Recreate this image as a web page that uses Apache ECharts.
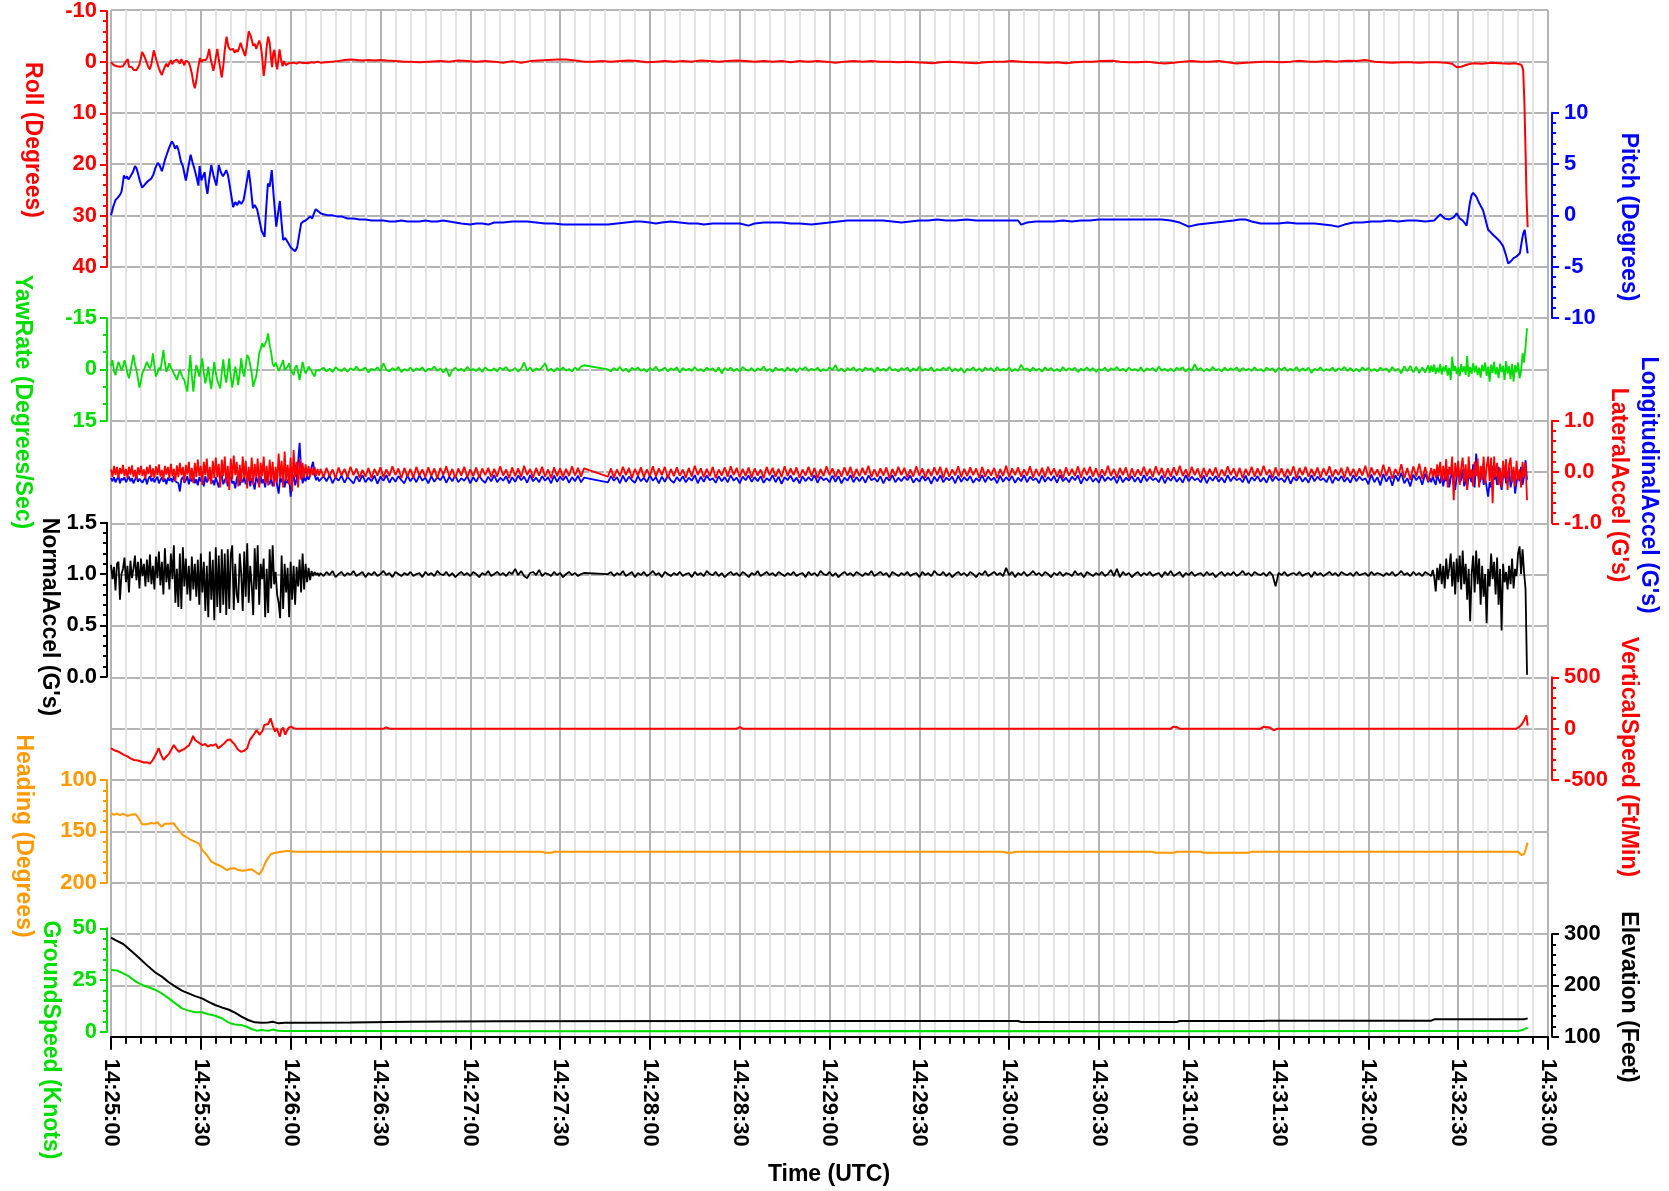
<!DOCTYPE html>
<html>
<head>
<meta charset="utf-8">
<script src="https://cdn.jsdelivr.net/npm/echarts@6/dist/echarts.min.js"></script>
<style>
html,body{margin:0;padding:0;background:#fff;}
#chart{width:1669px;height:1191px;}
</style>
</head>
<body>
<div id="chart"></div>
<script>
// ---------- tick labels ----------
const timeLabels = ['14:25:00','14:25:30','14:26:00','14:26:30','14:27:00','14:27:30','14:28:00','14:28:30','14:29:00','14:29:30','14:30:00','14:30:30','14:31:00','14:31:30','14:32:00','14:32:30','14:33:00'];

// ---------- smooth-ish channels: [seconds after 14:25:00, value] ----------
const rollData = [[0,0],[0.5,0.3],[1,0.6],[1.5,0.4],[2,0.8],[2.5,0.5],[3,0.9],[3.5,0.7],[4,0.8],[4.5,0.3],[5,0.2],[5.6,-0.6],[6,0.9],[6.5,1.2],[7,1.0],[7.5,1.5],[8,1.2],[8.5,1.6],[9,1.3],[9.5,0.5],[10,-0.8],[10.4,-2.0],[11,-1.3],[11.5,-0.6],[12,0.2],[12.5,1.0],[13,1.4],[13.5,0.3],[14.3,-2.3],[14.8,-1.2],[15.5,0.3],[16,1.2],[16.5,2.0],[17,2.5],[17.5,1.6],[18,0.9],[18.5,0.3],[19,0.9],[19.5,0.2],[20,-0.4],[20.5,0.4],[21,-0.2],[21.5,0.1],[22,-0.5],[22.5,-0.2],[23,0.3],[23.5,-0.6],[24,-0.7],[24.5,0.6],[25,-0.3],[25.5,-0.5],[26,0.1],[26.5,1.0],[27,2.2],[27.5,4.0],[28,5.1],[28.5,3.6],[29,1.5],[29.7,-0.8],[30.2,0],[30.7,-0.4],[31.2,-0.1],[31.7,-0.4],[32.2,-1.0],[32.8,-2.6],[33.3,-0.6],[34.2,1.7],[34.7,0.2],[35.5,-2.6],[36.2,0.2],[37,3.0],[37.5,0.8],[38,-2.4],[38.6,-5.0],[39.2,-3.0],[39.8,-2.4],[40.3,-2.2],[40.8,-2.6],[41.3,-1.8],[41.8,-2.4],[42.3,-2.0],[42.8,-2.8],[43.3,-3.8],[43.8,-2.8],[44.3,-2.0],[44.8,-1.2],[45.3,-2.8],[46,-6.0],[46.5,-5.4],[47,-4.4],[47.5,-3.2],[48,-3.6],[48.5,-2.6],[49,-3.4],[49.5,-4.2],[50,-3.4],[50.5,-1.0],[51,2.7],[51.5,0.5],[52,-3.0],[52.5,-5.0],[53,-3.8],[53.4,-1.0],[53.8,1.0],[54.2,-1.8],[54.6,-2.4],[55.1,0.2],[55.5,1.4],[55.9,-0.5],[56.3,-2.5],[56.8,-0.5],[57.3,0.8],[57.8,-0.2],[58.4,0.6],[59,0.5],[59.5,0.2],[60,0.3],[61,0.1],[62,0.3],[63,0.0],[64,0.2],[65,0.1],[66,0.2],[67,0.0],[68,0.1],[69,-0.1],[70,0.1],[72,0.0],[74,-0.1],[76,-0.2],[78,-0.4],[80,-0.5],[82,-0.4],[84,-0.3],[86,-0.4],[88,-0.3],[90,-0.4],[92,-0.3],[95,-0.2],[98,-0.1],[100,-0.1],[103,0.0],[106,-0.1],[110,-0.2],[113,-0.1],[116,-0.3],[119,-0.2],[122,-0.1],[125,-0.2],[128,-0.1],[131,0.1],[134,-0.2],[137,0.1],[140,-0.2],[143,-0.3],[146,-0.4],[149,-0.5],[152,-0.5],[155,-0.3],[158,-0.1],[161,-0.1],[164,-0.2],[167,-0.1],[170,-0.2],[173,-0.3],[176,-0.2],[179,0.0],[182,-0.1],[185,-0.2],[188,-0.1],[191,-0.2],[194,-0.1],[197,-0.3],[200,-0.2],[203,-0.1],[206,-0.2],[209,-0.3],[212,-0.2],[215,-0.1],[218,-0.2],[221,-0.1],[224,-0.2],[227,0.0],[230,-0.2],[233,-0.1],[236,-0.2],[239,-0.1],[242,0.1],[245,-0.1],[248,-0.2],[251,-0.1],[254,-0.2],[257,-0.1],[260,-0.1],[263,0.0],[266,-0.1],[269,0.0],[272,0.1],[274.5,0.2],[277,0.0],[280,-0.1],[283,0.0],[286,0.1],[289,0.2],[292,0.0],[295,-0.1],[298,-0.1],[301,-0.2],[304,-0.1],[307,0.0],[310,0.0],[313,0.1],[316,0.0],[319,0.2],[322,0.0],[325,-0.1],[328,-0.1],[331,-0.2],[334.5,-0.25],[337,-0.1],[340,0.0],[343,0.0],[346,-0.1],[349,0.1],[352,0.25],[355,0.1],[358,-0.1],[361,-0.2],[364,-0.1],[367,-0.1],[370,-0.2],[373,0.0],[376,0.25],[379,0.1],[382,0.0],[385,-0.1],[388,-0.1],[391,0.0],[394,-0.1],[397,-0.25],[400,-0.1],[403,-0.1],[406,-0.2],[409,-0.1],[413,-0.25],[416,-0.2],[419,-0.4],[422,-0.1],[425,0.0],[428,0.1],[431,0.0],[434,0.0],[437,0.1],[440,0.0],[443,0.0],[446,0.1],[448,0.3],[449.5,1.0],[451,0.9],[452.8,0.5],[455,0.2],[458,0.3],[461,0.1],[464,0.2],[467,0.3],[469,0.2],[471.1,0.5],[471.7,1.5],[472.1,7.6],[472.5,17.3],[472.8,25.8],[473.2,32.3]];

const pitchData = [[0,0],[0.7,0.8],[1.5,1.5],[2.2,1.7],[2.6,1.8],[3,2.0],[3.5,2.3],[3.9,3.0],[4.3,3.9],[4.8,3.6],[5.3,3.8],[5.8,3.5],[6.3,3.7],[6.8,3.6],[7.3,4.2],[8,4.8],[8.5,4.6],[9,4.1],[9.6,3.4],[10.4,2.7],[11,2.9],[11.6,3.1],[12.2,3.3],[12.8,3.2],[13.5,3.6],[14.2,4.0],[14.8,4.6],[15.6,5.1],[16.2,4.9],[17,4.3],[17.5,4.8],[18,5.4],[18.6,5.9],[19.3,6.5],[20.3,7.2],[20.8,7.0],[21.4,6.5],[22,6.8],[22.5,6.4],[23.4,5.2],[24,4.8],[25,3.4],[25.7,4.5],[26.6,5.9],[27.2,5.2],[27.8,4.6],[28.5,3.8],[29.2,2.9],[29.6,4.8],[30.2,3.4],[30.7,3.8],[31.3,4.2],[31.7,3.0],[32.2,2.1],[32.8,3.5],[33.5,4.9],[34.3,3.8],[35.2,2.9],[36,4.9],[36.7,4.2],[37.4,3.8],[38,4.1],[38.5,4.4],[39.1,3.9],[39.6,3.0],[40.8,0.8],[41.5,1.3],[42.2,1.0],[42.8,1.4],[43.5,1.1],[44.3,1.5],[45.2,3.0],[46,4.4],[46.6,3.0],[47.4,0.7],[48,1.0],[48.8,0.6],[49.6,-0.5],[50.3,-1.5],[51.3,-2.1],[51.8,0.5],[52.4,3.1],[53,2.8],[53.7,4.4],[54.3,2.0],[55.2,-1.1],[55.8,0.2],[56.4,1.4],[57,-0.8],[57.5,-2.4],[58.2,-2.2],[58.8,-2.5],[59.4,-2.8],[60,-3.1],[60.7,-3.3],[61.5,-3.5],[62.2,-3.1],[62.8,-2.0],[63.5,-0.8],[64.2,-0.6],[65,-0.5],[65.8,-0.3],[66.5,-0.1],[67.2,-0.3],[67.8,0.2],[68.4,0.6],[69.2,0.4],[70,0.2],[71,0.1],[72.5,0.0],[74,0.0],[75.5,-0.1],[77,-0.1],[79,-0.3],[81,-0.3],[83,-0.4],[85,-0.4],[87,-0.5],[89,-0.5],[91,-0.5],[93,-0.6],[95,-0.6],[97,-0.5],[99,-0.6],[101,-0.6],[103,-0.6],[105,-0.5],[107,-0.6],[109,-0.6],[111,-0.5],[113,-0.6],[115,-0.7],[117,-0.8],[120,-0.9],[122,-0.8],[124,-0.8],[126,-0.9],[128,-0.7],[131,-0.7],[134,-0.6],[136,-0.6],[139,-0.6],[142,-0.7],[145,-0.8],[148,-0.8],[151,-0.9],[154,-0.9],[157,-0.9],[160,-0.9],[163,-0.9],[166,-0.9],[169,-0.8],[172,-0.7],[175,-0.6],[177,-0.6],[180,-0.7],[182,-0.8],[184,-0.7],[187,-0.6],[190,-0.7],[193,-0.8],[196,-0.8],[198,-0.9],[201,-0.8],[204,-0.8],[207,-0.8],[210,-0.8],[213,-1.0],[215,-0.8],[218,-0.7],[221,-0.7],[224,-0.7],[227,-0.8],[230,-0.8],[234,-0.9],[237,-0.8],[240,-0.7],[243,-0.6],[246,-0.5],[249,-0.5],[252,-0.5],[255,-0.5],[258,-0.5],[261,-0.6],[264,-0.7],[267,-0.6],[270,-0.5],[273,-0.5],[276,-0.4],[279,-0.5],[282,-0.5],[286,-0.4],[289,-0.5],[292,-0.5],[295,-0.5],[298,-0.5],[301,-0.5],[303,-0.5],[304,-0.9],[306,-0.7],[309,-0.6],[312,-0.6],[315,-0.6],[318,-0.5],[321,-0.6],[324,-0.5],[327,-0.5],[330,-0.4],[333,-0.4],[336,-0.4],[339,-0.4],[342,-0.4],[345,-0.4],[348,-0.4],[351,-0.4],[354,-0.5],[357,-0.7],[360,-1.1],[363,-0.9],[366,-0.8],[369,-0.7],[372,-0.6],[375,-0.5],[377,-0.4],[379,-0.4],[381,-0.6],[384,-0.8],[387,-0.8],[390,-0.8],[393,-0.7],[396,-0.8],[399,-0.8],[402,-0.8],[405,-0.9],[408,-1.0],[410,-1.1],[412,-0.9],[415,-0.7],[418,-0.7],[421,-0.6],[424,-0.6],[427,-0.5],[430,-0.6],[433,-0.5],[436,-0.5],[439,-0.6],[442,-0.5],[444,0.1],[445.5,-0.3],[447,-0.4],[448.5,-0.2],[449.5,0.2],[450.5,-0.3],[451.5,-0.5],[452.8,-1.0],[453.4,0.2],[453.9,1.2],[454.5,2.0],[455,2.2],[455.6,2.1],[456.1,1.8],[457,1.2],[458.3,0.5],[459.2,-0.5],[460,-1.4],[461,-1.7],[462,-2.0],[462.8,-2.2],[463.8,-2.5],[465,-3.0],[466,-3.9],[466.7,-4.7],[467.5,-4.5],[468.4,-4.2],[469.5,-4.0],[470.6,-3.7],[471.2,-2.6],[471.7,-1.8],[472.2,-1.4],[472.6,-1.5],[473.2,-3.7]];

const vertSpeedData = [[0,-190],[1,-210],[2.6,-225],[3.5,-240],[4.3,-255],[5.5,-270],[6.5,-290],[7.7,-305],[9,-310],[10,-320],[11,-330],[12,-328],[13,-340],[14,-305],[15,-250],[15.9,-190],[16.8,-260],[17.6,-305],[18.5,-270],[19.3,-250],[20.2,-200],[21,-160],[21.9,-200],[22.7,-225],[23.6,-210],[24.4,-200],[25.2,-180],[26,-165],[26.8,-120],[27.4,-70],[28,-110],[28.6,-125],[29.5,-140],[30.6,-160],[31.5,-150],[32.3,-175],[33.2,-160],[34,-165],[35,-150],[35.8,-190],[36.8,-170],[37.8,-145],[38.9,-110],[39.8,-105],[40.5,-130],[41.2,-150],[42.3,-200],[43.4,-225],[44.5,-215],[45.5,-190],[46.4,-110],[47,-95],[48,-45],[48.6,-15],[49.1,-5],[49.7,-60],[50.6,-20],[51.2,35],[51.8,20],[52.5,45],[53.3,100],[54,30],[54.8,-30],[55.3,5],[55.9,-40],[56.4,-78],[56.9,-10],[57.5,10],[58.2,-60],[58.8,-20],[59.4,10],[60.1,20],[61,5],[62,0],[91,0],[92,12],[93,0],[148,0],[148.5,8],[149,0],[209,0],[210,15],[211,0],[254,0],[254.6,12],[255,0],[303,0],[303.6,-8],[304,0],[354,0],[354.8,18],[356,15],[357,0],[384,0],[385,18],[387,12],[388.5,-18],[389.5,0],[469.5,0],[470.5,20],[471.3,45],[472,80],[472.8,130],[473.2,30]];

const headingData = [[0,132.5],[1,134],[2,132.8],[3,134.2],[4,132.8],[5.5,135],[7,133.5],[8.3,133.4],[9.3,137.5],[10.4,143],[12,143],[13.5,141.8],[14.6,142.5],[15.5,141],[16.9,145.5],[18,142.5],[19.5,142.5],[21,142],[21.7,145.5],[23,150],[24,153.6],[25.5,156],[26.5,158],[28,160],[29.3,161.7],[30.5,168],[32,173],[33.5,179.5],[35,181.8],[36,183],[37,184.4],[38.7,187.7],[39.8,186.2],[41.4,186],[42.5,187.7],[44,188.3],[45.5,187.7],[47,187],[48.2,189.3],[49.5,192],[50.5,188],[51.7,179.5],[53.4,172],[55,170.8],[56.5,170],[58,169.3],[59,169],[61,169.8],[100,169.8],[144,169.8],[145,170.8],[147,170.8],[148,169.8],[298,169.8],[299,170.8],[301,170.8],[302,169.8],[348,169.8],[349,170.8],[355,170.8],[356,169.8],[364,169.8],[365,170.8],[380,170.8],[381,169.8],[470,169.8],[471.1,173],[472,172],[472.5,168],[473.2,161]];

const groundSpeedData = [[0,29.8],[2,29.6],[4.1,28.2],[6.2,26.6],[8.3,24.2],[10.4,22.6],[12.6,21.5],[14.8,20.2],[17,18.5],[19.3,16.1],[21.5,13.7],[23.7,11.3],[25.9,10.2],[28.1,9.4],[30.4,9.4],[32.6,8.4],[34.8,7.7],[37,6.5],[39.2,4.5],[40.5,3.8],[41.5,3.5],[43.7,3.2],[45.3,2.4],[47,1.3],[48.6,0.5],[50.3,0.8],[52.5,0.4],[54.2,1.1],[55.8,0.5],[58,0.3],[70,0.3],[150,0.2],[250,0.3],[350,0.2],[440,0.3],[470,0.3],[471.5,0.8],[472.5,1.5],[473.2,2.0]];

const elevationData = [[0,292.9],[1.5,288],[4.1,280.5],[6.2,270],[8.3,259],[10.4,248],[12.6,236],[14.8,225],[17,217],[19.3,206],[21.5,197.4],[23.7,189.6],[25.9,184.4],[28.1,179],[30.4,174.7],[32.6,168],[34.8,161.7],[37,157],[39.2,153],[41.4,146.8],[43.6,139],[45.8,132.5],[48,128],[50.2,127.3],[52.5,127.5],[54,129],[56,126],[58,127],[62,127.3],[80,127.5],[100,129.2],[130,130.2],[210,130.6],[303,130.6],[304,128.6],[356,128.6],[357,130.6],[385,130.6],[386,131.2],[441,131.2],[442,133.8],[472,134],[473.2,135.7]];

// ---------- noisy channels: early (0-69.5 s, every 0.5 s), mid1 (70-158 s, every 1 s),
// mid2 (166-440 s, every 1 s), late (440.5-473 s, every 0.5 s) ----------
const normEarly = [1.09,0.95,1.07,0.84,1.10,1.12,0.75,1.00,1.05,1.16,
0.92,1.08,0.82,1.13,0.96,1.05,1.18,0.94,1.12,0.86,
1.15,0.98,1.10,0.88,1.14,0.92,1.19,0.90,1.08,0.85,
1.17,0.96,1.22,0.89,1.12,0.80,1.25,0.92,1.10,0.85,
1.20,0.95,1.28,0.72,1.05,0.68,1.20,0.66,1.26,0.88,
1.15,0.80,1.08,0.74,1.17,0.85,1.10,0.78,1.14,0.70,
1.20,0.82,1.12,0.64,1.08,0.58,1.22,0.75,1.14,0.55,
1.26,0.68,1.18,0.62,1.24,0.70,1.20,0.60,1.24,0.66,
1.19,1.28,0.65,1.10,0.80,0.72,1.20,1.00,0.64,1.22,
0.78,1.30,0.72,1.08,0.90,0.60,1.25,0.85,1.28,0.70,
1.10,0.95,1.15,0.58,1.05,0.62,1.24,0.86,1.28,0.90,
1.02,0.80,0.72,0.57,1.18,0.66,1.10,0.82,1.06,0.58,
1.12,0.75,1.08,0.70,1.07,0.88,1.14,0.82,1.20,0.85,
1.10,0.92,1.06,0.94,1.03,0.98,1.02,0.99,1.01,0.98];
const normMid1 = [1.01,0.98,1.02,0.99,1.03,0.97,1.00,1.02,0.98,1.01,
0.99,1.03,0.98,1.00,1.02,0.97,1.01,0.99,1.02,0.98,
1.00,1.03,0.99,1.01,0.97,1.02,1.00,0.98,1.01,0.99,
1.02,0.98,1.00,1.01,0.97,1.02,0.99,1.01,0.98,1.03,
1.00,0.99,1.02,0.98,1.01,0.97,1.00,1.02,0.99,1.01,
0.98,1.02,1.00,0.97,1.01,0.99,1.03,0.98,1.00,1.02,
0.99,1.01,0.98,1.02,1.00,1.05,0.99,1.03,0.98,0.96,
1.01,1.02,0.99,1.04,0.98,1.01,1.00,0.98,1.02,0.99,
1.01,0.97,1.00,1.02,0.99,1.01,0.98,1.00,1.01];
const normMid2 = [1.00,1.02,0.98,1.01,0.99,1.03,0.98,1.00,1.02,0.97,
1.01,0.99,1.02,0.98,1.00,1.03,0.99,1.01,0.97,1.02,
1.00,0.98,1.01,0.99,1.02,0.98,1.00,1.01,0.97,1.02,
0.99,1.01,0.98,1.03,1.00,0.99,1.02,0.98,1.01,0.97,
1.00,1.02,0.99,1.01,0.98,1.02,1.00,0.97,1.01,0.99,
1.03,0.98,1.00,1.02,0.99,1.01,0.98,1.02,1.00,0.98,
1.01,0.99,1.02,0.98,1.00,1.01,0.97,1.02,0.99,1.01,
0.98,1.03,1.00,0.99,1.02,0.98,1.01,0.97,1.00,1.02,
0.99,1.01,0.98,1.02,1.00,0.98,1.01,0.99,1.03,0.98,
1.00,1.02,0.99,1.01,0.97,1.02,1.00,0.98,1.01,0.99,
1.02,0.98,1.00,1.01,0.97,1.02,0.99,1.01,0.98,1.03,
1.00,0.99,1.02,0.98,1.01,0.97,1.00,1.02,0.99,1.01,
0.98,1.02,1.00,0.97,1.01,0.99,1.03,0.98,1.00,1.02,
0.99,1.01,0.98,1.06,0.99,1.02,0.97,1.01,0.99,1.02,
0.98,1.00,1.03,0.99,1.01,0.98,1.02,1.00,0.97,1.01,
0.99,1.02,0.98,1.01,1.00,0.98,1.03,0.99,1.01,0.97,
1.02,1.00,0.98,1.01,0.99,1.02,0.98,1.00,1.04,0.98,
1.05,0.97,1.02,0.99,1.01,0.97,1.00,1.02,0.98,1.01,
0.99,1.02,0.98,1.00,1.01,0.97,1.02,0.99,1.03,0.98,
1.00,1.02,0.97,1.01,0.99,1.02,0.98,1.00,1.01,0.98,
1.02,0.99,1.01,0.97,1.00,1.02,0.98,1.01,0.99,1.02,
0.98,1.00,1.03,0.99,1.01,0.98,1.02,1.00,0.99,1.01,
0.98,1.02,0.99,0.88,1.01,0.99,1.02,0.98,1.00,1.01,
0.99,1.02,0.98,1.00,1.01,0.97,1.02,0.99,1.01,0.98,
1.00,1.02,0.99,1.01,0.98,1.02,1.00,0.99,1.01,0.98,
1.02,0.99,1.00,1.01,0.98,1.02,0.99,1.01,1.00,0.98,
1.01,0.99,1.02,0.98,1.00,1.03,0.99,1.01,0.98,1.02,
0.99,1.01,0.98,1.02,1.00];
const normLate = [1.01,0.98,1.04,0.97,0.83,1.06,0.94,1.10,0.90,1.08,
0.86,1.15,0.95,1.05,1.20,0.88,1.12,0.80,1.15,0.92,
1.18,0.85,1.23,0.90,1.10,0.75,1.05,0.54,1.00,1.18,
0.82,1.23,0.90,1.15,0.70,1.08,0.78,1.00,0.52,1.05,
0.88,1.20,0.95,1.12,0.80,1.16,0.70,1.05,0.45,1.10,
0.92,1.02,0.85,1.08,0.90,1.15,0.86,1.05,0.98,1.20,
1.27,1.00,1.24,1.02,0.85,0.02];

const yawEarly = [-1.0,-2.7,0.5,1.7,-0.5,-2.2,-1.0,0.3,-0.8,-2.7,
-1.0,1.2,2.6,0.5,-2.0,-4.2,-1.5,0.2,2.8,5.3,
3.5,1.0,0.2,-1.0,-2.2,-1.0,-0.3,-1.5,-4.7,-1.0,
2.1,1.0,-0.5,0.2,-2.5,-5.6,-2.0,0.7,-0.5,-1.8,
-0.5,-0.8,1.2,2.0,3.1,1.5,0.3,0.7,2.5,3.1,
5.0,6.5,1.0,-4.2,2.0,6.5,2.0,-1.3,0.5,2.1,
-0.5,-3.2,1.0,4.1,2.0,-0.8,3.0,5.8,1.5,-2.2,
1.0,3.1,4.5,5.6,1.0,-2.9,1.5,3.9,0.5,-3.2,
2.0,5.3,2.5,-0.8,1.5,4.6,1.0,-3.2,0.5,2.1,
-1.0,-4.2,-3.5,-3.2,1.0,5.1,3.5,2.1,-1.0,-4.7,
-6.0,-7.6,-6.5,-6.2,-8.5,-10.5,-7.0,-5.0,-1.5,-0.8,
-2.0,-2.2,0.5,0.2,-1.5,-2.7,0.2,0.7,-0.8,-1.8,
0.2,0.8,1.7,-0.5,-1.2,0.8,3.1,0.5,-2.2,-0.3,
1.2,0.3,-0.8,-1.2,0.5,1.5,2.1,0.2,-0.3,0.4];
const yawMid1 = [0.3,-0.5,0.6,-0.2,0.8,-0.6,0.1,0.5,-0.4,0.7,
-0.3,0.2,-0.8,0.4,0.0,-0.5,0.9,-0.2,0.3,-0.6,
0.5,-1.8,0.2,0.6,-0.4,0.3,-0.7,0.8,-0.1,0.4,
-0.5,0.6,-0.3,0.2,-0.6,0.7,-0.2,0.1,-0.8,0.5,
-0.3,0.9,-0.4,2.1,0.3,-0.5,0.4,-0.2,0.6,-0.7,
0.3,-0.1,0.5,-0.4,0.8,-0.6,0.2,0.4,-0.3,0.6,
-0.5,0.1,-0.7,0.5,0.3,-0.4,0.7,-0.2,-2.0,0.4,
-0.5,0.6,-0.3,0.2,-0.6,-1.8,0.5,-0.2,0.7,-0.4,
0.3,-0.6,0.4,-0.1,0.6,-0.5,0.2,-0.8,-1.2];
const yawMid2 = [0.0,0.6,-0.4,0.3,-0.7,0.5,-0.2,0.8,-0.5,0.2,
-0.6,0.4,-0.1,0.7,-0.4,0.3,-0.8,0.5,0.1,-0.5,
0.6,-0.3,0.2,-0.6,0.9,-0.4,0.3,-0.2,0.5,-0.7,
0.4,-0.1,0.6,-0.5,0.2,-0.3,0.7,-0.6,1.2,-0.4,
0.3,-0.5,0.5,-0.2,0.6,-0.7,0.1,0.4,-0.4,0.6,
-0.3,0.2,-0.8,0.5,-0.1,0.7,-0.5,0.3,-0.2,0.6,
-0.6,0.4,-0.3,0.8,-0.4,0.1,-0.7,0.5,-0.2,0.3,
-0.5,0.6,-0.1,0.4,-0.6,0.2,-1.3,0.5,-0.3,0.7,
-0.4,0.3,-0.6,0.5,-0.2,0.6,-0.5,0.1,-0.3,0.8,
-0.6,0.4,-0.2,0.5,-0.7,0.3,-0.1,0.6,-0.4,0.2,
-0.5,0.7,-0.3,0.4,-0.8,0.5,-0.2,0.3,-0.6,0.6,
-0.1,0.4,-0.5,0.2,-0.7,0.6,-0.3,0.5,-0.4,1.0,
-0.2,0.3,-0.6,0.5,-0.3,0.7,-0.5,0.1,-0.4,0.6,
-0.7,0.4,-0.2,0.3,-0.5,0.6,-0.1,0.5,-1.4,0.2,
-0.3,0.6,-0.5,0.4,-0.2,0.7,-0.6,0.3,-0.4,0.5,
-0.1,0.6,-0.7,0.4,-0.3,0.2,-0.5,0.8,-0.2,0.3,
-0.6,0.5,-0.4,0.7,-0.1,0.3,-0.5,0.6,-0.3,0.2,
-0.7,0.4,-0.2,0.6,-0.5,0.3,-0.1,0.5,-0.6,0.7,
-0.3,0.2,-0.4,0.6,-0.8,0.4,-0.2,0.5,-0.3,0.6,
-0.5,0.1,-0.6,0.7,-0.3,0.4,-1.5,0.2,-0.4,0.6,
-0.2,0.5,-0.7,0.3,-0.1,0.6,-0.5,0.4,-0.3,0.2,
-0.6,0.7,-0.4,0.3,-0.2,0.5,-0.6,0.4,-0.1,0.6,
-0.5,0.3,-0.3,0.8,-0.4,0.2,-0.6,0.5,-0.2,0.4,
-0.7,0.6,-0.3,0.4,-0.5,1.1,-0.2,0.3,-0.6,0.5,
-0.1,0.4,-0.5,0.6,-0.3,0.2,-0.7,0.5,-0.4,0.6,
-0.2,0.7,-0.6,0.3,-0.4,0.5,-0.1,0.6,-0.5,0.3,
-0.3,0.8,-0.7,0.5,-0.2,1.2,-0.9,0.6,-1.0,0.9,
-0.8,1.1,-0.6,0.9,-1.2];
const yawLate = [1.0,-1.1,0.7,-1.4,1.3,-0.5,0.9,-1.6,1.5,-0.8,
0.6,-1.2,1.8,-0.4,3.1,-3.7,0.5,-1.0,1.4,-0.6,
2.0,-1.5,0.8,-0.9,1.6,-3.9,2.2,-0.7,1.3,-1.8,
0.9,-1.1,1.7,-0.5,2.4,-1.3,0.6,-2.0,1.9,-0.8,
3.6,-1.4,1.0,-2.2,1.5,-0.6,2.6,-1.7,0.8,-1.0,
3.1,-2.4,1.2,-0.9,2.8,-1.6,3.6,-1.2,0.9,-2.0,
2.6,0.5,-4.7,-2.0,-6.6,-12.0];

const latEarly = [0.05,-0.10,0.12,-0.06,0.10,-0.12,0.08,-0.04,0.14,-0.08,
0.06,-0.12,0.10,-0.05,0.13,-0.10,0.04,-0.14,0.09,-0.06,
0.12,-0.08,0.05,-0.13,0.10,-0.04,0.14,-0.10,0.07,-0.12,
0.11,-0.06,0.15,-0.09,0.04,-0.16,0.12,-0.05,0.10,-0.12,
0.16,-0.08,0.06,-0.18,0.13,-0.10,0.18,-0.06,0.10,-0.20,
0.14,-0.05,0.20,-0.15,0.08,-0.22,0.18,-0.10,0.24,-0.08,
0.12,-0.25,0.20,-0.06,0.26,-0.18,0.10,-0.24,0.22,-0.12,
0.28,-0.10,0.16,-0.30,0.24,-0.08,0.30,-0.22,0.12,-0.35,
0.26,-0.14,0.32,-0.06,0.20,-0.28,0.14,-0.20,0.30,-0.12,
0.22,-0.32,0.10,-0.18,0.28,-0.25,0.16,-0.10,0.26,-0.30,
0.18,-0.08,0.30,-0.22,0.12,-0.26,0.24,-0.15,0.20,-0.28,
0.10,-0.20,0.36,-0.12,0.22,-0.30,0.40,-0.18,0.14,-0.25,
0.28,-0.38,0.43,-0.10,0.20,-0.30,0.25,-0.15,0.18,-0.12,
0.15,-0.08,0.12,-0.10,0.08,-0.06,0.10,-0.08,0.06,-0.07];
const latMid1 = [0.06,-0.10,0.08,-0.08,0.05,-0.12,0.09,-0.07,0.06,-0.10,
0.10,-0.06,0.07,-0.11,0.04,-0.09,0.08,-0.12,0.06,-0.07,
0.09,-0.10,0.05,-0.08,0.11,-0.06,0.07,-0.12,0.08,-0.09,
0.06,-0.11,0.10,-0.07,0.05,-0.10,0.09,-0.08,0.07,-0.12,
0.08,-0.06,0.11,-0.09,0.06,-0.12,0.07,-0.07,0.10,-0.10,
0.05,-0.08,0.09,-0.11,0.07,-0.06,0.08,-0.10,0.06,-0.09,
0.11,-0.07,0.05,-0.12,0.09,-0.08,0.07,-0.10,0.12,-0.06,
0.06,-0.11,0.08,-0.07,0.10,-0.09,0.05,-0.12,0.09,-0.08,
0.07,-0.10,0.06,-0.08,0.11,-0.07,0.08,-0.09,0.07];
const latMid2 = [-0.09,0.07,-0.11,0.05,-0.08,0.10,-0.06,0.08,-0.12,0.06,
-0.07,0.09,-0.10,0.05,-0.08,0.11,-0.09,0.07,-0.06,0.10,
-0.12,0.06,-0.08,0.09,-0.07,0.05,-0.11,0.08,-0.09,0.12,
-0.06,0.07,-0.10,0.06,-0.08,0.10,-0.12,0.05,-0.07,0.09,
-0.09,0.11,-0.06,0.08,-0.10,0.06,-0.08,0.09,-0.11,0.07,
-0.07,0.05,-0.12,0.10,-0.06,0.08,-0.09,0.06,-0.10,0.11,
-0.08,0.07,-0.06,0.09,-0.11,0.05,-0.07,0.10,-0.09,0.08,
-0.12,0.06,-0.08,0.11,-0.06,0.07,-0.10,0.05,-0.09,0.09,
-0.07,0.10,-0.11,0.06,-0.08,0.08,-0.06,0.12,-0.10,0.05,
-0.09,0.07,-0.07,0.09,-0.12,0.06,-0.08,0.10,-0.06,0.08,
-0.10,0.05,-0.09,0.11,-0.07,0.07,-0.11,0.06,-0.08,0.09,
-0.06,0.10,-0.12,0.08,-0.09,0.05,-0.07,0.11,-0.10,0.06,
-0.08,0.09,-0.06,0.07,-0.11,0.10,-0.09,0.05,-0.07,0.08,
-0.12,0.06,-0.08,0.12,-0.10,0.07,-0.06,0.09,-0.09,0.05,
-0.07,0.11,-0.11,0.06,-0.08,0.08,-0.10,0.10,-0.06,0.07,
-0.09,0.05,-0.12,0.09,-0.07,0.06,-0.08,0.11,-0.11,0.08,
-0.06,0.10,-0.09,0.07,-0.10,0.05,-0.07,0.12,-0.08,0.06,
-0.11,0.08,-0.06,0.09,-0.12,0.07,-0.09,0.05,-0.07,0.10,
-0.08,0.06,-0.10,0.11,-0.06,0.08,-0.11,0.07,-0.09,0.09,
-0.07,0.12,-0.08,0.05,-0.10,0.10,-0.06,0.07,-0.12,0.08,
-0.09,0.06,-0.07,0.09,-0.11,0.05,-0.08,0.11,-0.06,0.07,
-0.10,0.08,-0.12,0.06,-0.07,0.10,-0.09,0.07,-0.08,0.12,
-0.06,0.05,-0.11,0.09,-0.08,0.07,-0.10,0.06,-0.07,0.11,
-0.12,0.08,-0.06,0.10,-0.09,0.06,-0.08,0.09,-0.11,0.07,
-0.07,0.11,-0.10,0.05,-0.06,0.08,-0.12,0.10,-0.08,0.06,
-0.09,0.07,-0.07,0.12,-0.11,0.09,-0.06,0.05,-0.10,0.14,
-0.08,0.10,-0.13,0.06,-0.07,0.15,-0.12,0.08,-0.15,0.11,
-0.09,0.16,-0.14,0.10,-0.18];
const latLate = [-0.05,0.08,-0.10,0.06,-0.12,0.15,-0.08,0.20,-0.20,0.12,
-0.15,0.25,-0.30,0.10,-0.05,0.30,-0.55,0.18,-0.10,0.22,
-0.25,0.08,0.28,-0.20,0.15,-0.35,0.30,-0.12,0.05,-0.28,
0.20,-0.08,0.26,-0.30,0.12,-0.15,0.30,-0.22,0.10,0.30,
-0.18,0.28,-0.61,0.30,-0.10,0.18,-0.25,0.08,-0.30,0.22,
-0.12,0.25,-0.35,0.15,0.28,-0.20,0.10,-0.28,0.22,-0.15,
0.05,-0.30,0.20,-0.10,0.18,-0.55];

const lonEarly = [-0.12,-0.18,-0.10,-0.20,-0.14,-0.08,-0.22,-0.12,-0.16,-0.10,
-0.20,-0.14,-0.09,-0.18,-0.12,-0.22,-0.15,-0.08,-0.19,-0.13,
-0.10,-0.21,-0.15,-0.11,-0.24,-0.13,-0.08,-0.18,-0.12,-0.20,
-0.14,-0.09,-0.22,-0.16,-0.10,-0.19,-0.13,-0.24,-0.11,-0.17,
-0.12,-0.20,-0.08,-0.18,-0.15,-0.22,-0.38,-0.14,-0.10,-0.21,
-0.16,-0.08,-0.24,-0.12,-0.18,-0.06,-0.22,-0.14,-0.26,-0.10,
-0.18,-0.12,-0.28,-0.08,-0.20,-0.14,-0.04,-0.22,-0.16,-0.26,
-0.10,-0.20,-0.30,-0.12,-0.06,-0.24,-0.16,-0.10,-0.28,-0.14,
-0.08,-0.22,-0.18,-0.32,-0.12,-0.06,-0.26,-0.14,-0.20,-0.10,
-0.24,-0.16,-0.06,-0.28,-0.12,-0.20,-0.34,-0.10,-0.18,-0.26,
-0.08,-0.22,-0.14,-0.30,-0.06,-0.18,-0.24,-0.12,-0.28,-0.16,
-0.04,-0.26,-0.42,-0.12,-0.20,-0.08,-0.30,-0.14,-0.22,-0.10,
-0.48,-0.20,-0.05,-0.26,-0.14,0.20,0.57,0.05,-0.22,-0.10,
-0.18,-0.08,-0.15,-0.06,0.10,0.20,-0.05,-0.16,-0.10,-0.18];
const lonMid1 = [-0.20,-0.08,-0.18,-0.06,-0.22,-0.10,-0.17,-0.07,-0.21,-0.09,
-0.16,-0.22,-0.08,-0.19,-0.06,-0.20,-0.11,-0.18,-0.07,-0.23,
-0.09,-0.17,-0.06,-0.21,-0.10,-0.19,-0.08,-0.16,-0.22,-0.07,
-0.18,-0.09,-0.20,-0.06,-0.17,-0.11,-0.22,-0.08,-0.19,-0.10,
-0.16,-0.07,-0.21,-0.09,-0.18,-0.06,-0.20,-0.12,-0.17,-0.08,
-0.22,-0.10,-0.19,-0.07,-0.16,-0.21,-0.09,-0.18,-0.06,-0.20,
-0.11,-0.17,-0.08,-0.22,-0.10,-0.19,-0.07,-0.16,-0.09,-0.21,
-0.06,-0.18,-0.11,-0.20,-0.08,-0.17,-0.10,-0.22,-0.07,-0.19,
-0.09,-0.16,-0.08,-0.21,-0.10,-0.18,-0.07,-0.20,-0.11];
const lonMid2 = [-0.20,-0.08,-0.17,-0.10,-0.22,-0.07,-0.19,-0.09,-0.16,-0.21,
-0.08,-0.18,-0.11,-0.20,-0.06,-0.17,-0.10,-0.22,-0.09,-0.19,
-0.07,-0.16,-0.21,-0.10,-0.18,-0.08,-0.20,-0.11,-0.17,-0.06,
-0.22,-0.09,-0.19,-0.07,-0.16,-0.12,-0.21,-0.08,-0.18,-0.10,
-0.20,-0.06,-0.17,-0.11,-0.22,-0.09,-0.16,-0.07,-0.19,-0.10,
-0.18,-0.08,-0.21,-0.12,-0.17,-0.06,-0.20,-0.09,-0.23,-0.10,
-0.16,-0.07,-0.19,-0.11,-0.22,-0.08,-0.18,-0.10,-0.17,-0.06,
-0.21,-0.09,-0.16,-0.12,-0.20,-0.07,-0.19,-0.08,-0.22,-0.11,
-0.17,-0.06,-0.20,-0.10,-0.18,-0.09,-0.21,-0.07,-0.16,-0.12,
-0.19,-0.08,-0.22,-0.10,-0.17,-0.06,-0.20,-0.11,-0.18,-0.09,
-0.16,-0.07,-0.21,-0.12,-0.19,-0.08,-0.17,-0.10,-0.23,-0.09,
-0.18,-0.06,-0.20,-0.11,-0.16,-0.09,-0.22,-0.07,-0.19,-0.10,
-0.17,-0.08,-0.21,-0.12,-0.18,-0.06,-0.20,-0.09,-0.16,-0.11,
-0.22,-0.07,-0.19,-0.10,-0.17,-0.08,-0.21,-0.11,-0.18,-0.06,
-0.20,-0.09,-0.16,-0.12,-0.22,-0.07,-0.19,-0.10,-0.17,-0.08,
-0.21,-0.06,-0.18,-0.11,-0.20,-0.09,-0.16,-0.07,-0.23,-0.10,
-0.17,-0.08,-0.19,-0.12,-0.21,-0.06,-0.18,-0.10,-0.16,-0.09,
-0.22,-0.07,-0.20,-0.11,-0.17,-0.08,-0.19,-0.10,-0.21,-0.06,
-0.18,-0.09,-0.16,-0.12,-0.20,-0.07,-0.22,-0.10,-0.17,-0.08,
-0.19,-0.11,-0.21,-0.06,-0.18,-0.09,-0.16,-0.12,-0.20,-0.07,
-0.22,-0.10,-0.17,-0.08,-0.19,-0.11,-0.21,-0.06,-0.18,-0.09,
-0.16,-0.12,-0.20,-0.07,-0.22,-0.10,-0.17,-0.08,-0.19,-0.11,
-0.21,-0.06,-0.18,-0.09,-0.16,-0.12,-0.20,-0.07,-0.23,-0.10,
-0.17,-0.08,-0.19,-0.11,-0.21,-0.06,-0.18,-0.09,-0.16,-0.12,
-0.20,-0.07,-0.22,-0.10,-0.17,-0.08,-0.19,-0.11,-0.21,-0.06,
-0.18,-0.09,-0.16,-0.12,-0.24,-0.05,-0.20,-0.10,-0.26,-0.04,
-0.19,-0.08,-0.27,-0.06,-0.18,-0.02,-0.22,-0.12,-0.28,-0.05,
-0.16,-0.08,-0.25,-0.03,-0.20];
const lonLate = [-0.12,-0.20,-0.08,-0.18,-0.25,-0.05,-0.15,-0.22,-0.02,-0.28,
-0.10,-0.18,0.05,-0.30,-0.12,0.02,-0.25,-0.35,-0.08,0.10,
-0.20,-0.15,0.05,-0.28,-0.10,-0.32,-0.05,-0.12,-0.20,0.15,
-0.30,0.36,0.05,-0.22,-0.15,0.10,-0.25,-0.12,-0.10,-0.48,
-0.20,-0.30,0.12,-0.15,-0.05,-0.25,0.10,-0.18,-0.35,-0.08,
0.05,-0.22,-0.12,0.08,-0.30,-0.15,0.02,-0.42,-0.20,-0.05,
-0.18,0.10,-0.25,-0.10,0.23,-0.15];

// ---------- build [t, v] tables from the segments ----------
function seg(t0, step, vals) { return vals.map(function (v, i) { return [Math.round((t0 + i * step) * 100) / 100, v]; }); }
function joinSegs(early, mid1, mid2, late) {
  return seg(0, 0.5, early)
    .concat(seg(70, 1, mid1))
    .concat(seg(440 - (mid2.length - 1), 1, mid2))
    .concat(seg(473 - (late.length - 1) * 0.5, 0.5, late));
}
const normData = joinSegs(normEarly, normMid1, normMid2, normLate);
const yawData = joinSegs(yawEarly, yawMid1, yawMid2, yawLate);
const latData = joinSegs(latEarly, latMid1, latMid2, latLate);
const lonData = joinSegs(lonEarly, lonMid1, lonMid2, lonLate);

// ---------- styling ----------
const RED = '#ff0000', BLUE = '#0000ff', GREEN = '#00dd00', ORANGE = '#ff9900', BLACK = '#000000';
const FONT = '"Liberation Sans", Arial, sans-serif';
const PL = 111, PW = 1437;

// panel definitions: [top, height, min, max, interval, minorSplit, inverse, side, color, decimals]
const panels = [
  {top: 10,    h: 256.7, min: -10, max: 40,  iv: 10,  ms: 5, inv: true,  side: 'left',  color: RED,    dec: 0},
  {top: 318,   h: 102.7, min: -15, max: 15,  iv: 15,  ms: 3, inv: true,  side: 'left',  color: GREEN,  dec: 0},
  {top: 522.7, h: 154,   min: 0,   max: 1.5, iv: 0.5, ms: 5, inv: false, side: 'left',  color: BLACK,  dec: 1},
  {top: 780,   h: 102.7, min: 100, max: 200, iv: 50,  ms: 5, inv: true,  side: 'left',  color: ORANGE, dec: 0},
  {top: 928.3, h: 103.4, min: 0,   max: 50,  iv: 25,  ms: 5, inv: false, side: 'left',  color: GREEN,  dec: 0},
  {top: 112.7, h: 205.3, min: -10, max: 10,  iv: 5,   ms: 5, inv: false, side: 'right', color: BLUE,   dec: 0},
  {top: 420.7, h: 102.6, min: -1,  max: 1,   iv: 1,   ms: 5, inv: false, side: 'right', color: RED,    dec: 1},
  {top: 677.3, h: 102.7, min: -500,max: 500, iv: 500, ms: 5, inv: false, side: 'right', color: RED,    dec: 0},
  {top: 934,   h: 102.7, min: 100, max: 300, iv: 100, ms: 5, inv: false, side: 'right', color: BLACK,  dec: 0}
];

const grids = [{left: PL, top: 10, width: PW, height: 1026.7}];
const xAxes = [{
  gridIndex: 0, type: 'value', min: 0, max: 480, interval: 30,
  axisLine: {onZero: false, lineStyle: {color: '#000', width: 2}},
  axisTick: {show: true, length: 13, lineStyle: {color: '#000', width: 2}},
  minorTick: {show: true, splitNumber: 6, length: 7, lineStyle: {color: '#000', width: 2}},
  splitLine: {show: true, lineStyle: {color: '#b4b4b4', width: 2}},
  minorSplitLine: {show: true, lineStyle: {color: '#e4e4e4', width: 2}},
  axisLabel: {rotate: -90, margin: 22, color: '#000', fontSize: 22, fontWeight: 'bold', fontFamily: FONT,
    formatter: function (v) { return timeLabels[Math.round(v / 30)]; }}
}];
const yAxes = [{
  gridIndex: 0, type: 'value', min: 0, max: 20, interval: 1,
  axisLine: {show: false}, axisTick: {show: false}, axisLabel: {show: false},
  splitLine: {show: true, lineStyle: {color: '#b4b4b4', width: 2}}
}];
panels.forEach(function (p, i) {
  grids.push({left: PL, top: p.top, width: PW, height: p.h});
  xAxes.push({gridIndex: i + 1, type: 'value', min: 0, max: 480, show: false});
  yAxes.push({
    gridIndex: i + 1, type: 'value', min: p.min, max: p.max, interval: p.iv, inverse: p.inv,
    position: p.side, offset: 4,
    axisLine: {show: true, onZero: false, lineStyle: {color: p.color, width: 2}},
    axisTick: {show: true, length: 7, lineStyle: {color: p.color, width: 2}},
    minorTick: {show: true, splitNumber: p.ms, length: 4, lineStyle: {color: p.color, width: 2}},
    splitLine: {show: false},
    axisLabel: {color: p.color, fontSize: 22, fontWeight: 'bold', fontFamily: FONT,
      margin: p.side === 'left' ? 10 : 12, padding: [12, 0, 0, 0],
      formatter: function (v) { return p.dec ? v.toFixed(p.dec) : String(v); }}
  });
});

function line(name, idx, data, color, w) {
  return {type: 'line', name: name, xAxisIndex: idx, yAxisIndex: idx, data: data,
    showSymbol: false, symbol: 'none', clip: false, animation: false,
    lineStyle: {color: color, width: w || 2}, itemStyle: {color: color}};
}

const series = [
  line('Roll', 1, rollData, RED),
  line('YawRate', 2, yawData, GREEN, 1.8),
  line('NormalAccel', 3, normData, BLACK, 1.8),
  line('Heading', 4, headingData, ORANGE),
  line('GroundSpeed', 5, groundSpeedData, GREEN),
  line('Pitch', 6, pitchData, BLUE),
  line('LongitudinalAccel', 7, lonData, BLUE, 1.8),
  line('LateralAccel', 7, latData, RED, 1.8),
  line('VerticalSpeed', 8, vertSpeedData, RED),
  line('Elevation', 9, elevationData, BLACK)
];

function vtext(text, x, y, color) {
  return {type: 'text', x: x, y: y, rotation: -Math.PI / 2,
    style: {text: text, fill: color, font: 'bold 23px ' + FONT, align: 'center', verticalAlign: 'middle',
      textAlign: 'center', textVerticalAlign: 'middle'}};
}
const graphics = [
  vtext('Roll (Degrees)', 32, 140, RED),
  vtext('YawRate (Degrees/Sec)', 22, 402, GREEN),
  vtext("NormalAccel (G's)", 49, 617, BLACK),
  vtext('Heading (Degrees)', 23, 836, ORANGE),
  vtext('GroundSpeed (Knots)', 50, 1040, GREEN),
  vtext('Pitch (Degrees)', 1628, 217, BLUE),
  vtext("LongitudinalAccel (G's)", 1648, 485, BLUE),
  vtext("LateralAccel (G's)", 1618, 485, RED),
  vtext('VerticalSpeed (Ft/Min)', 1628, 757, RED),
  vtext('Elevation (Feet)', 1628, 997, BLACK),
  {type: 'text', x: 829, y: 1175, style: {text: 'Time (UTC)', fill: BLACK, font: 'bold 23px ' + FONT,
    align: 'center', verticalAlign: 'middle', textAlign: 'center', textVerticalAlign: 'middle'}}
];

const chart = echarts.init(document.getElementById('chart'), null, {renderer: 'canvas'});
chart.setOption({
  animation: false,
  backgroundColor: '#ffffff',
  grid: grids,
  xAxis: xAxes,
  yAxis: yAxes,
  series: series,
  graphic: {elements: graphics}
});
</script>
</body>
</html>
